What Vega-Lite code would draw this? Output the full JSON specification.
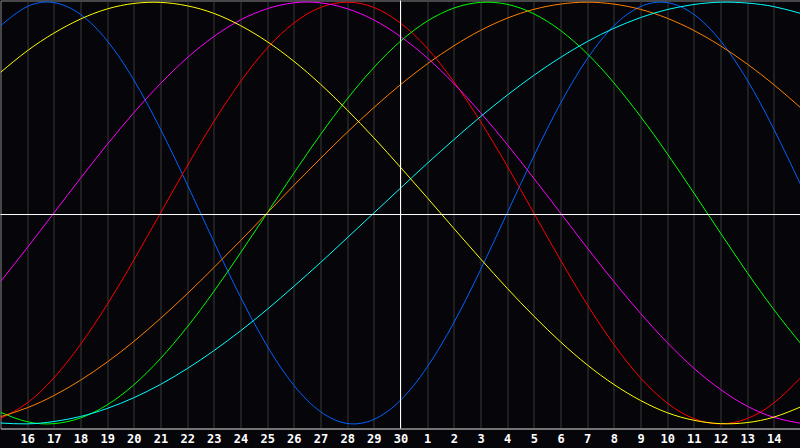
{
  "$schema": "https://vega.github.io/schema/vega-lite/v6.json",
  "width": 800,
  "height": 428,
  "autosize": {"type": "none"},
  "padding": {"left": 0.5, "top": 0.5, "right": 0, "bottom": 20},
  "background": "#05050a",
  "config": {
    "view": {"stroke": "#8a8a8a", "strokeWidth": 1, "fill": "#05050a"},
    "axis": {"labelOverlap": false},
    "axisX": {
      "labelOverlap": false,
      "labelSeparation": 0,
      "labelBound": false,
      "labelFlush": false,
      "labelColor": "#ffffff",
      "labelFont": "DejaVu Sans Mono",
      "labelFontSize": 12,
      "labelFontWeight": "bold",
      "labelPadding": 5,
      "ticks": false,
      "grid": true,
      "gridColor": "#3a3a3a",
      "gridOpacity": 1,
      "domainColor": "#a0a0a0"
    }
  },
  "datasets": {
    "curves": [
      {"t":0,"s":"Physical","v":0.888},{"t":1,"s":"Physical","v":0.979},{"t":2,"s":"Physical","v":0.998},{"t":3,"s":"Physical","v":0.942},{"t":4,"s":"Physical","v":0.817},{"t":5,"s":"Physical","v":0.631},{"t":6,"s":"Physical","v":0.398},{"t":7,"s":"Physical","v":0.136},{"t":8,"s":"Physical","v":-0.136},{"t":9,"s":"Physical","v":-0.398},{"t":10,"s":"Physical","v":-0.631},{"t":11,"s":"Physical","v":-0.817},{"t":12,"s":"Physical","v":-0.942},{"t":13,"s":"Physical","v":-0.998},{"t":14,"s":"Physical","v":-0.979},{"t":15,"s":"Physical","v":-0.888},{"t":16,"s":"Physical","v":-0.731},{"t":17,"s":"Physical","v":-0.52},{"t":18,"s":"Physical","v":-0.27},{"t":19,"s":"Physical","v":0},{"t":20,"s":"Physical","v":0.27},{"t":21,"s":"Physical","v":0.52},{"t":22,"s":"Physical","v":0.731},{"t":23,"s":"Physical","v":0.888},{"t":24,"s":"Physical","v":0.979},{"t":25,"s":"Physical","v":0.998},{"t":26,"s":"Physical","v":0.942},{"t":27,"s":"Physical","v":0.817},{"t":28,"s":"Physical","v":0.631},{"t":29,"s":"Physical","v":0.398},{"t":30,"s":"Physical","v":0.136},
      {"t":0,"s":"Emotional","v":-0.975},{"t":1,"s":"Emotional","v":-0.901},{"t":2,"s":"Emotional","v":-0.782},{"t":3,"s":"Emotional","v":-0.623},{"t":4,"s":"Emotional","v":-0.434},{"t":5,"s":"Emotional","v":-0.223},{"t":6,"s":"Emotional","v":0},{"t":7,"s":"Emotional","v":0.223},{"t":8,"s":"Emotional","v":0.434},{"t":9,"s":"Emotional","v":0.623},{"t":10,"s":"Emotional","v":0.782},{"t":11,"s":"Emotional","v":0.901},{"t":12,"s":"Emotional","v":0.975},{"t":13,"s":"Emotional","v":1},{"t":14,"s":"Emotional","v":0.975},{"t":15,"s":"Emotional","v":0.901},{"t":16,"s":"Emotional","v":0.782},{"t":17,"s":"Emotional","v":0.623},{"t":18,"s":"Emotional","v":0.434},{"t":19,"s":"Emotional","v":0.223},{"t":20,"s":"Emotional","v":0},{"t":21,"s":"Emotional","v":-0.223},{"t":22,"s":"Emotional","v":-0.434},{"t":23,"s":"Emotional","v":-0.623},{"t":24,"s":"Emotional","v":-0.782},{"t":25,"s":"Emotional","v":-0.901},{"t":26,"s":"Emotional","v":-0.975},{"t":27,"s":"Emotional","v":-1},{"t":28,"s":"Emotional","v":-0.975},{"t":29,"s":"Emotional","v":-0.901},{"t":30,"s":"Emotional","v":-0.782},
      {"t":0,"s":"Intuitive","v":-0.325},{"t":1,"s":"Intuitive","v":-0.165},{"t":2,"s":"Intuitive","v":0},{"t":3,"s":"Intuitive","v":0.165},{"t":4,"s":"Intuitive","v":0.325},{"t":5,"s":"Intuitive","v":0.476},{"t":6,"s":"Intuitive","v":0.614},{"t":7,"s":"Intuitive","v":0.736},{"t":8,"s":"Intuitive","v":0.837},{"t":9,"s":"Intuitive","v":0.916},{"t":10,"s":"Intuitive","v":0.969},{"t":11,"s":"Intuitive","v":0.997},{"t":12,"s":"Intuitive","v":0.997},{"t":13,"s":"Intuitive","v":0.969},{"t":14,"s":"Intuitive","v":0.916},{"t":15,"s":"Intuitive","v":0.837},{"t":16,"s":"Intuitive","v":0.736},{"t":17,"s":"Intuitive","v":0.614},{"t":18,"s":"Intuitive","v":0.476},{"t":19,"s":"Intuitive","v":0.325},{"t":20,"s":"Intuitive","v":0.165},{"t":21,"s":"Intuitive","v":0},{"t":22,"s":"Intuitive","v":-0.165},{"t":23,"s":"Intuitive","v":-0.325},{"t":24,"s":"Intuitive","v":-0.476},{"t":25,"s":"Intuitive","v":-0.614},{"t":26,"s":"Intuitive","v":-0.736},{"t":27,"s":"Intuitive","v":-0.837},{"t":28,"s":"Intuitive","v":-0.916},{"t":29,"s":"Intuitive","v":-0.969},{"t":30,"s":"Intuitive","v":-0.997},
      {"t":0,"s":"Intellectual","v":-0.945},{"t":1,"s":"Intellectual","v":-0.99},{"t":2,"s":"Intellectual","v":-0.999},{"t":3,"s":"Intellectual","v":-0.972},{"t":4,"s":"Intellectual","v":-0.91},{"t":5,"s":"Intellectual","v":-0.815},{"t":6,"s":"Intellectual","v":-0.69},{"t":7,"s":"Intellectual","v":-0.541},{"t":8,"s":"Intellectual","v":-0.372},{"t":9,"s":"Intellectual","v":-0.189},{"t":10,"s":"Intellectual","v":0},{"t":11,"s":"Intellectual","v":0.189},{"t":12,"s":"Intellectual","v":0.372},{"t":13,"s":"Intellectual","v":0.541},{"t":14,"s":"Intellectual","v":0.69},{"t":15,"s":"Intellectual","v":0.815},{"t":16,"s":"Intellectual","v":0.91},{"t":17,"s":"Intellectual","v":0.972},{"t":18,"s":"Intellectual","v":0.999},{"t":19,"s":"Intellectual","v":0.99},{"t":20,"s":"Intellectual","v":0.945},{"t":21,"s":"Intellectual","v":0.866},{"t":22,"s":"Intellectual","v":0.756},{"t":23,"s":"Intellectual","v":0.618},{"t":24,"s":"Intellectual","v":0.458},{"t":25,"s":"Intellectual","v":0.282},{"t":26,"s":"Intellectual","v":0.095},{"t":27,"s":"Intellectual","v":-0.095},{"t":28,"s":"Intellectual","v":-0.282},{"t":29,"s":"Intellectual","v":-0.458},{"t":30,"s":"Intellectual","v":-0.618},
      {"t":0,"s":"Awareness","v":-0.966},{"t":1,"s":"Awareness","v":-0.924},{"t":2,"s":"Awareness","v":-0.866},{"t":3,"s":"Awareness","v":-0.793},{"t":4,"s":"Awareness","v":-0.707},{"t":5,"s":"Awareness","v":-0.609},{"t":6,"s":"Awareness","v":-0.5},{"t":7,"s":"Awareness","v":-0.383},{"t":8,"s":"Awareness","v":-0.259},{"t":9,"s":"Awareness","v":-0.131},{"t":10,"s":"Awareness","v":0},{"t":11,"s":"Awareness","v":0.131},{"t":12,"s":"Awareness","v":0.259},{"t":13,"s":"Awareness","v":0.383},{"t":14,"s":"Awareness","v":0.5},{"t":15,"s":"Awareness","v":0.609},{"t":16,"s":"Awareness","v":0.707},{"t":17,"s":"Awareness","v":0.793},{"t":18,"s":"Awareness","v":0.866},{"t":19,"s":"Awareness","v":0.924},{"t":20,"s":"Awareness","v":0.966},{"t":21,"s":"Awareness","v":0.991},{"t":22,"s":"Awareness","v":1},{"t":23,"s":"Awareness","v":0.991},{"t":24,"s":"Awareness","v":0.966},{"t":25,"s":"Awareness","v":0.924},{"t":26,"s":"Awareness","v":0.866},{"t":27,"s":"Awareness","v":0.793},{"t":28,"s":"Awareness","v":0.707},{"t":29,"s":"Awareness","v":0.609},{"t":30,"s":"Awareness","v":0.5},
      {"t":0,"s":"Spiritual","v":-0.996},{"t":1,"s":"Spiritual","v":-1},{"t":2,"s":"Spiritual","v":-0.989},{"t":3,"s":"Spiritual","v":-0.965},{"t":4,"s":"Spiritual","v":-0.927},{"t":5,"s":"Spiritual","v":-0.876},{"t":6,"s":"Spiritual","v":-0.813},{"t":7,"s":"Spiritual","v":-0.738},{"t":8,"s":"Spiritual","v":-0.653},{"t":9,"s":"Spiritual","v":-0.559},{"t":10,"s":"Spiritual","v":-0.457},{"t":11,"s":"Spiritual","v":-0.348},{"t":12,"s":"Spiritual","v":-0.235},{"t":13,"s":"Spiritual","v":-0.118},{"t":14,"s":"Spiritual","v":0},{"t":15,"s":"Spiritual","v":0.118},{"t":16,"s":"Spiritual","v":0.235},{"t":17,"s":"Spiritual","v":0.348},{"t":18,"s":"Spiritual","v":0.457},{"t":19,"s":"Spiritual","v":0.559},{"t":20,"s":"Spiritual","v":0.653},{"t":21,"s":"Spiritual","v":0.738},{"t":22,"s":"Spiritual","v":0.813},{"t":23,"s":"Spiritual","v":0.876},{"t":24,"s":"Spiritual","v":0.927},{"t":25,"s":"Spiritual","v":0.965},{"t":26,"s":"Spiritual","v":0.989},{"t":27,"s":"Spiritual","v":1},{"t":28,"s":"Spiritual","v":0.996},{"t":29,"s":"Spiritual","v":0.979},{"t":30,"s":"Spiritual","v":0.947},
      {"t":0,"s":"Aesthetic","v":0.667},{"t":1,"s":"Aesthetic","v":0.769},{"t":2,"s":"Aesthetic","v":0.853},{"t":3,"s":"Aesthetic","v":0.92},{"t":4,"s":"Aesthetic","v":0.968},{"t":5,"s":"Aesthetic","v":0.994},{"t":6,"s":"Aesthetic","v":0.999},{"t":7,"s":"Aesthetic","v":0.983},{"t":8,"s":"Aesthetic","v":0.947},{"t":9,"s":"Aesthetic","v":0.889},{"t":10,"s":"Aesthetic","v":0.813},{"t":11,"s":"Aesthetic","v":0.72},{"t":12,"s":"Aesthetic","v":0.611},{"t":13,"s":"Aesthetic","v":0.489},{"t":14,"s":"Aesthetic","v":0.357},{"t":15,"s":"Aesthetic","v":0.217},{"t":16,"s":"Aesthetic","v":0.073},{"t":17,"s":"Aesthetic","v":-0.073},{"t":18,"s":"Aesthetic","v":-0.217},{"t":19,"s":"Aesthetic","v":-0.357},{"t":20,"s":"Aesthetic","v":-0.489},{"t":21,"s":"Aesthetic","v":-0.611},{"t":22,"s":"Aesthetic","v":-0.72},{"t":23,"s":"Aesthetic","v":-0.813},{"t":24,"s":"Aesthetic","v":-0.889},{"t":25,"s":"Aesthetic","v":-0.947},{"t":26,"s":"Aesthetic","v":-0.983},{"t":27,"s":"Aesthetic","v":-0.999},{"t":28,"s":"Aesthetic","v":-0.994},{"t":29,"s":"Aesthetic","v":-0.968},{"t":30,"s":"Aesthetic","v":-0.92}
    ]
  },
  "layer": [
    {
      "data": {"name": "curves"},
      "mark": {"type": "line", "interpolate": "natural", "strokeWidth": 1, "clip": true},
      "encoding": {
        "x": {
          "field": "t", "type": "quantitative",
          "scale": {"domain": [0, 30], "nice": false, "zero": false},
          "axis": {
            "orient": "bottom",
            "title": null,
            "values": [1,2,3,4,5,6,7,8,9,10,11,12,13,14,15,16,17,18,19,20,21,22,23,24,25,26,27,28,29],
            "labelExpr": "datum.value <= 15 ? datum.value + 15 : datum.value - 15",
            "labelOverlap": false
          }
        },
        "y": {
          "field": "v", "type": "quantitative",
          "scale": {"domain": [-1.022, 1.008], "nice": false, "zero": false},
          "axis": null
        },
        "color": {
          "field": "s", "type": "nominal",
          "scale": {
            "domain": ["Physical", "Emotional", "Intuitive", "Intellectual", "Awareness", "Spiritual", "Aesthetic"],
            "range": ["#0064ff", "#ff0000", "#ff00ff", "#00ff00", "#ff8000", "#00ffff", "#ffff00"]
          },
          "legend": null
        },
        "detail": {"field": "s"}
      }
    },
    {
      "data": {"values": [{"v": 0}]},
      "mark": {"type": "rule", "color": "#ffffff", "strokeWidth": 1, "yOffset": 1.5},
      "encoding": {"y": {"field": "v", "type": "quantitative", "axis": null}}
    },
    {
      "data": {"values": [{"t": 15}]},
      "mark": {"type": "rule", "color": "#ffffff", "strokeWidth": 1},
      "encoding": {
        "x": {
          "field": "t", "type": "quantitative",
          "axis": {
            "orient": "bottom",
            "title": null,
            "values": [1,2,3,4,5,6,7,8,9,10,11,12,13,14,15,16,17,18,19,20,21,22,23,24,25,26,27,28,29],
            "labelExpr": "datum.value <= 15 ? datum.value + 15 : datum.value - 15",
            "labelOverlap": false
          }
        }
      }
    }
  ]
}
